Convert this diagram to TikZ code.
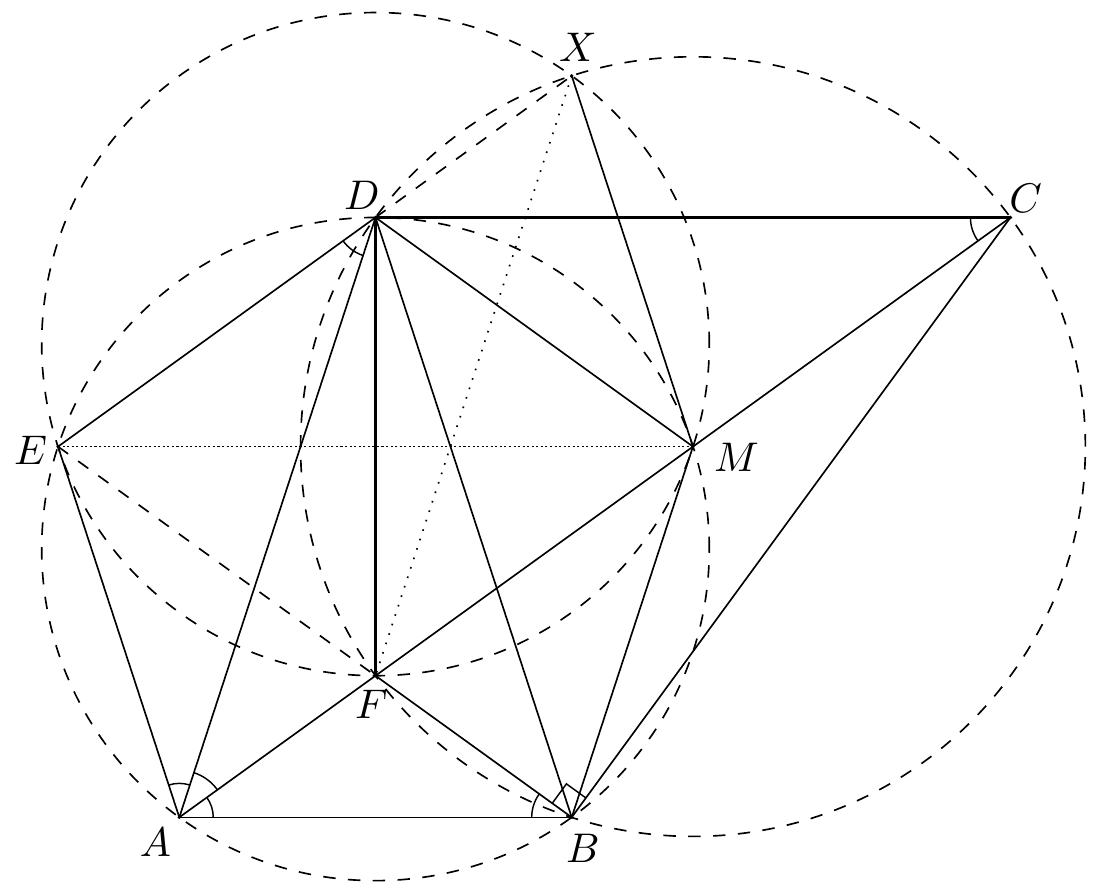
\documentclass[tikz,border=0pt]{standalone}
\usetikzlibrary{angles}
\begin{document}
\begin{tikzpicture}[x=94.765pt,y=94.137pt,
  geo/.style={line width=0.4pt},
  heavygeo/.style={line width=0.55pt},
  circdash/.style={line width=0.4pt,dash pattern=on 3pt off 3pt},
  dotline/.style={line width=0.4pt,dotted},
  finedots/.style={line width=0.4pt,dash pattern=on 0.5pt off 0.6pt},
  lbl/.style={inner sep=0pt},
  amark/.style={draw,line width=0.35pt},
  ptdot/.style={fill=black}]
\useasboundingbox (-0.45693,-0.19933) rectangle (2.32849,2.09672);
% points
\coordinate (A) at (0,0);
\coordinate (B) at (1,0);
\coordinate (M) at (1.309017,0.951057);
\coordinate (D) at (0.5,1.538842);
\coordinate (E) at (-0.309017,0.951057);
\coordinate (F) at (0.5,0.363271);
\coordinate (C) at (2.118034,1.538842);
\coordinate (X) at (1,1.902113);
\coordinate (O1) at (0.5,0.688191);
\coordinate (O2) at (0.5,1.213922);
% circles
\draw[circdash] (O1) circle [radius=0.850651];
\draw[circdash] (O2) circle [radius=0.850651];
\draw[circdash] (M) circle [radius=1];
% dashed / dotted segments
\draw[circdash] (E) -- (F);
\draw[circdash] (D) -- (X);
\draw[finedots] (E) -- (M);
\draw[dotline] (X) -- (F);
% solid segments
\draw[geo] (A) -- (B);
\draw[geo] (A) -- (E);
\draw[geo] (E) -- (D);
\draw[geo] (A) -- (D);
\draw[geo] (D) -- (B);
\draw[geo] (D) -- (M);
\draw[geo] (M) -- (B);
\draw[geo] (F) -- (B);
\draw[geo] (X) -- (M);
\draw[geo] (B) -- (C);
\draw[geo] (A) -- (C);
\draw[heavygeo] (D) -- (C);
\draw[heavygeo] (D) -- (F);
% angle marks
\pic[amark,angle radius=8.2pt] {angle = D--A--E};
\pic[amark,angle radius=11.35pt] {angle = F--A--D};
\pic[amark,angle radius=8.2pt] {angle = B--A--F};
\pic[amark,angle radius=9.66pt] {angle = F--B--A};
\pic[amark,angle radius=5.8pt] {right angle = C--B--F};
\pic[amark,angle radius=9.66pt] {angle = D--C--A};
\pic[amark,angle radius=9.66pt] {angle = E--D--A};
% point dots
\foreach \p in {A,B,C,D,E,F,M,X} \fill[ptdot] (\p) circle [radius=0.45pt];
% labels
\node[lbl] (lA) at ([shift={(-5.8pt,-6pt)}]A) {$A$};
\node[lbl] (lB) at ([shift={(2.7pt,-7.4pt)}]B) {$B$};
\node[lbl] (lC) at ([shift={(3.7pt,4.7pt)}]C) {$C$};
\node[lbl] (lD) at ([shift={(-3.3pt,5.4pt)}]D) {$D$};
\node[lbl] (lE) at ([shift={(-6.6pt,-0.8pt)}]E) {$E$};
\node[lbl] (lF) at ([shift={(-1pt,-7pt)}]F) {$F$};
\node[lbl] (lM) at ([shift={(10.5pt,-2.5pt)}]M) {$M$};
\node[lbl] (lX) at ([shift={(1.5pt,7pt)}]X) {$X$};
\end{tikzpicture}
\end{document}
